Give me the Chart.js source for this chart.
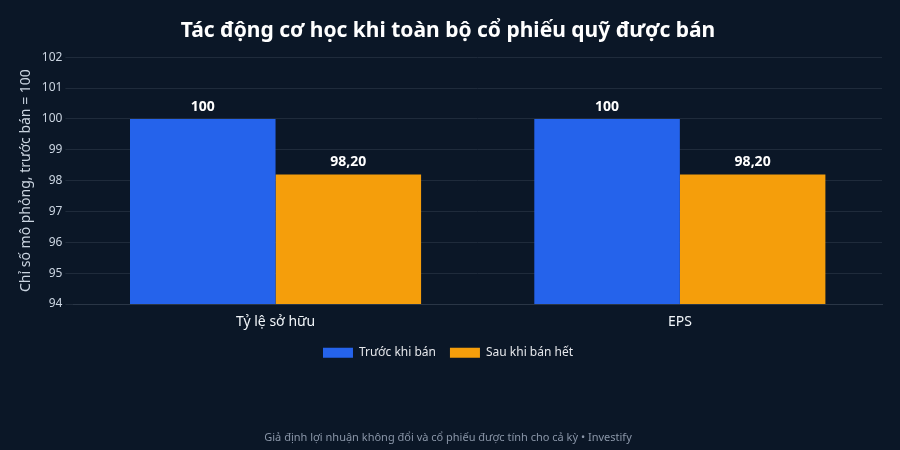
<!DOCTYPE html>
<html><head><meta charset="utf-8">
<script src="https://cdn.jsdelivr.net/npm/chart.js@4/dist/chart.umd.min.js"></script>
<style>html,body{margin:0;background:#0b1727;}#w{width:900px;height:450px;}</style>
</head><body><div id="w"><canvas id="c"></canvas></div>
<script>
const categories = ["Tỷ lệ sở hữu", "EPS"];
const before = [100, 100];
const after = [98.2, 98.2];
const labelsBefore = ["100", "100"];
const labelsAfter = ["98,20", "98,20"];
const font = "'Noto Sans', sans-serif";
const valLabels = {
  id: 'valLabels',
  afterDatasetsDraw(chart) {
    const ctx = chart.ctx;
    ctx.save();
    ctx.fillStyle = '#ffffff';
    ctx.font = "bold 14px " + font;
    ctx.textAlign = 'center';
    ctx.textBaseline = 'bottom';
    chart.data.datasets.forEach((ds, i) => {
      chart.getDatasetMeta(i).data.forEach((b, j) => {
        ctx.fillText(ds.txt[j], b.x, b.y - 5);
      });
    });
    ctx.restore();
  }
};
new Chart(document.getElementById('c'), {
  type: 'bar',
  data: {
    labels: categories,
    datasets: [
      { label: 'Trước khi bán', data: before, txt: labelsBefore, backgroundColor: '#2563eb' },
      { label: 'Sau khi bán hết', data: after, txt: labelsAfter, backgroundColor: '#f59e0b' }
    ]
  },
  options: {
    responsive: true, maintainAspectRatio: false, animation: false,
    layout: { padding: { left: 14, right: 18, top: 12, bottom: 0 } },
    datasets: { bar: { categoryPercentage: 0.72, barPercentage: 1 } },
    plugins: {
      title: { display: true, text: 'Tác động cơ học khi toàn bộ cổ phiếu quỹ được bán', color: '#ffffff',
        font: { family: font, size: 21, weight: 'bold' }, padding: { top: 6, bottom: 14 } },
      subtitle: { display: true, position: 'bottom', text: 'Giả định lợi nhuận không đổi và cổ phiếu được tính cho cả kỳ • Investify',
        color: '#8a96a8', font: { family: font, size: 11 }, padding: { top: 62, bottom: 6 } },
      legend: { position: 'bottom', labels: { color: '#e5e7eb', boxWidth: 30, boxHeight: 10, padding: 14,
        font: { family: font, size: 12 } } },
      tooltip: { enabled: false }
    },
    scales: {
      x: { grid: { display: false }, border: { color: '#2a3646' },
        ticks: { color: '#f1f5f9', padding: 2, font: { family: font, size: 14 } } },
      y: { min: 94, max: 102, border: { display: false },
        grid: { color: '#1f2b3b' },
        ticks: { stepSize: 1, color: '#cbd5e1', font: { family: font, size: 12 } },
        title: { display: true, text: 'Chỉ số mô phỏng, trước bán = 100', color: '#cbd5e1', font: { family: font, size: 14 } } }
    }
  },
  plugins: [valLabels]
});
</script></body></html>
